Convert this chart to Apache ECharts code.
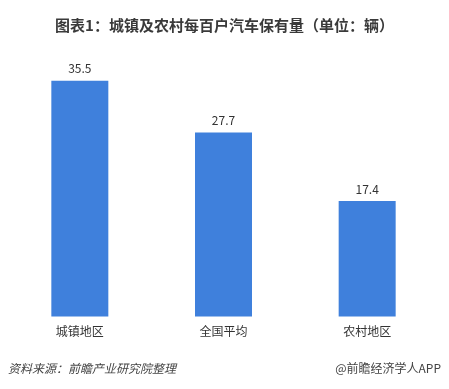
<!DOCTYPE html>
<html><head><meta charset="utf-8">
<script src="https://cdn.jsdelivr.net/npm/echarts@6/dist/echarts.min.js"></script>
<style>html,body{margin:0;padding:0;background:#fff}#c{width:449px;height:389px}</style>
</head><body><div id="c"></div>
<script>
const categories = ['城镇地区', '全国平均', '农村地区'];
const values = [35.5, 27.7, 17.4];
const titleText = '图表1：城镇及农村每百户汽车保有量（单位：辆）';
const sourceText = '资料来源：前瞻产业研究院整理';
const brandText = '@前瞻经济学人APP';

const chart = echarts.init(document.getElementById('c'));
chart.setOption({
  backgroundColor: '#fff',
  animation: false,
  title: {
    text: titleText, left: 'center', top: 13,
    textStyle: { fontFamily: 'Noto Sans CJK SC', fontSize: 15, fontWeight: 'bold', color: '#3a3a3a' }
  },
  graphic: [
    { type: 'text', left: 8, top: 362, style: { text: sourceText, fontFamily: 'Noto Sans CJK SC', fontSize: 12, fontStyle: 'italic', fill: '#444' } },
    { type: 'text', right: 8, top: 362, style: { text: brandText, fontFamily: 'Noto Sans CJK SC', fontSize: 12, fill: '#444' } }
  ],
  grid: { left: 8, right: 10, top: 50.9, bottom: 72.5, containLabel: false },
  xAxis: {
    type: 'category', data: categories,
    axisLine: { show: false }, axisTick: { show: false },
    axisLabel: { fontFamily: 'Noto Sans CJK SC', fontSize: 12, color: '#333', margin: 9 }
  },
  yAxis: { type: 'value', min: 0, max: 40, show: false, splitLine: { show: false } },
  series: [{
    type: 'bar', data: values, barWidth: 57,
    itemStyle: { color: '#3F80DC' },
    label: { show: true, position: 'top', distance: 6, fontFamily: 'Noto Sans CJK SC', fontSize: 12, color: '#333' }
  }]
});
</script></body></html>
